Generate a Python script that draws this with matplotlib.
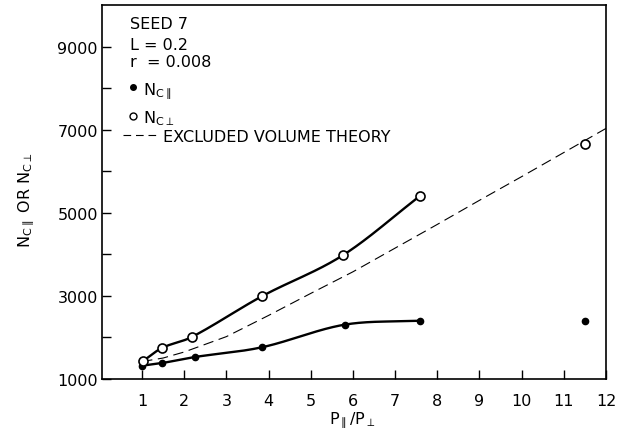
import numpy as np
import matplotlib
matplotlib.use("Agg")
import matplotlib.pyplot as plt

plt.rcParams['font.family'] = ['DejaVu Sans']
plt.rcParams['mathtext.default'] = 'regular'
plt.rcParams['lines.scale_dashes'] = False

# ---- data ----
ratio_perp = [1.02, 1.47, 2.18, 3.84, 5.76, 7.58, 11.51]
nc_perp = [1430, 1746, 2011, 2990, 3977, 5398, 6657]
ratio_par = [1.00, 1.48, 2.26, 3.84, 5.80, 7.59, 11.51]
nc_par = [1320, 1385, 1530, 1763, 2307, 2403, 2403]
theory_x = [1, 1.5, 2, 3, 4, 5, 6, 7, 8, 9, 10, 11, 12]
theory_y = [1420, 1505, 1650, 2020, 2530, 3060, 3580, 4150, 4720, 5300, 5870, 6450, 7030]
n_fit = 6  # smooth curves drawn through first six points of each series

x_ticks = list(range(1, 13))
y_major = [1000, 3000, 5000, 7000, 9000]
y_minor = [2000, 4000, 6000, 8000]


def hermite_curve(xs, ys, n=200):
    xs = np.asarray(xs, float)
    ys = np.asarray(ys, float)
    m = np.empty_like(ys)
    m[1:-1] = (ys[2:] - ys[:-2]) / (xs[2:] - xs[:-2])
    m[0] = (ys[1] - ys[0]) / (xs[1] - xs[0])
    m[-1] = (ys[-1] - ys[-2]) / (xs[-1] - xs[-2])
    out_x, out_y = [], []
    for i in range(len(xs) - 1):
        h = xs[i + 1] - xs[i]
        t = np.linspace(0, 1, n)
        h00 = 2 * t**3 - 3 * t**2 + 1
        h10 = t**3 - 2 * t**2 + t
        h01 = -2 * t**3 + 3 * t**2
        h11 = t**3 - t**2
        out_x.append(xs[i] + t * h)
        out_y.append(h00 * ys[i] + h10 * h * m[i] + h01 * ys[i + 1] + h11 * h * m[i + 1])
    return np.concatenate(out_x), np.concatenate(out_y)


fig = plt.figure(figsize=(6.21, 4.35), dpi=100)
ax = fig.add_axes([102 / 621, 1 - 380 / 435, (606 - 102) / 621, (380 - 6) / 435])

# theory dashed line
ax.plot(theory_x, theory_y, color='black', lw=0.8, dashes=(7.5, 4), zorder=2)

# smooth fitted curves
cx, cy = hermite_curve(ratio_perp[:n_fit], nc_perp[:n_fit])
ax.plot(cx, cy, color='black', lw=1.7, zorder=3, solid_capstyle='butt')
cx, cy = hermite_curve(ratio_par[:n_fit], nc_par[:n_fit])
ax.plot(cx, cy, color='black', lw=1.7, zorder=3, solid_capstyle='butt')

# markers
ax.plot(ratio_par, nc_par, 'o', color='black', ms=4.5, zorder=5)
ax.plot(ratio_perp, nc_perp, 'o', mfc='white', mec='black', mew=1.2, ms=6.5, zorder=6)

ax.set_xlim(0.05, 12.0)
ax.set_ylim(1000, 10000)
ax.set_xticks(x_ticks)
ax.set_xticklabels([str(v) for v in x_ticks])
ax.set_yticks(y_major)
ax.set_yticklabels([str(v) for v in y_major])
ax.set_yticks(y_minor, minor=True)
ax.tick_params(axis='both', which='both', direction='in', length=6.5, width=1.0,
               labelsize=11.5)
ax.tick_params(axis='x', pad=10)
ax.tick_params(axis='y', pad=3)
for s in ax.spines.values():
    s.set_linewidth(1.2)

# annotation block
def fx(px):
    return (px - 102) / 504


def fy(py):
    return (380 - py) / 374


tfs = 11.5
ax.text(fx(130), fy(29), "SEED 7", transform=ax.transAxes, fontsize=tfs, va='baseline')
ax.text(fx(130), fy(50), "L = 0.2", transform=ax.transAxes, fontsize=tfs, va='baseline')
ax.text(fx(130), fy(67), "r  = 0.008", transform=ax.transAxes, fontsize=tfs, va='baseline')
ax.plot([fx(133)], [fy(88)], 'o', color='black', ms=4, transform=ax.transAxes, clip_on=False)
ax.text(fx(143), fy(94), r"N$_{C\parallel}$", transform=ax.transAxes, fontsize=tfs, va='baseline')
ax.plot([fx(133)], [fy(117)], 'o', mfc='white', mec='black', mew=1.0, ms=5,
        transform=ax.transAxes, clip_on=False)
ax.text(fx(143), fy(123), r"N$_{C\perp}$", transform=ax.transAxes, fontsize=tfs, va='baseline')
ax.plot([fx(123), fx(158)], [fy(136), fy(136)], color='black', lw=0.8, dashes=(5.5, 3.5),
        transform=ax.transAxes)
ax.text(fx(163), fy(142), "EXCLUDED VOLUME THEORY", transform=ax.transAxes, fontsize=tfs,
        va='baseline')

# axis labels
fig.text(26 / 621, 1 - 200 / 435, r"N$_{C\parallel}$ OR N$_{C\perp}$", rotation=90,
         ha='center', va='center', fontsize=11.5)
fig.text(352 / 621, 1 - 423 / 435, r"P$_{\parallel}$/P$_{\perp}$", ha='center',
         va='baseline', fontsize=11.5)

fig.savefig("out.png", dpi=100, facecolor='white')
